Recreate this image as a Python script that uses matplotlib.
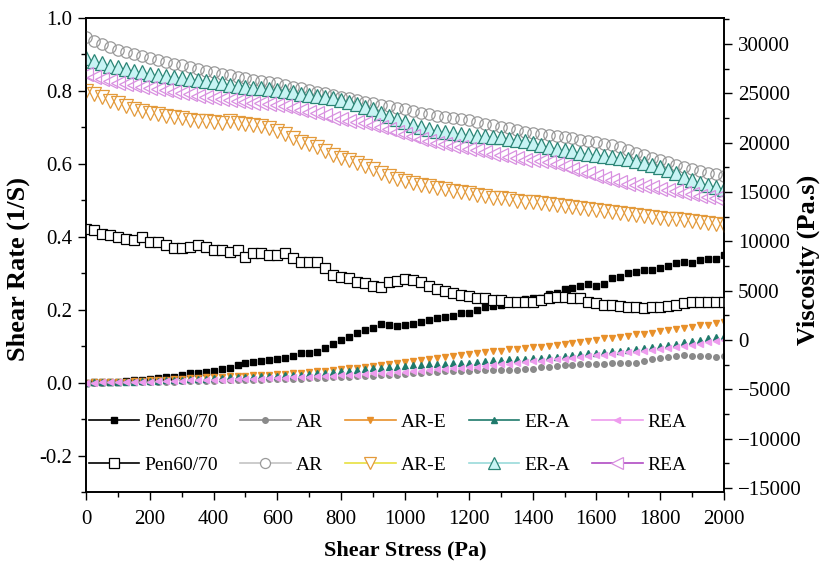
import numpy as np
import matplotlib.pyplot as plt
from matplotlib.lines import Line2D
from matplotlib.ticker import MultipleLocator

plt.rcParams['font.family'] = ['Liberation Serif', 'DejaVu Serif']

# shear stress steps (Pa)
stress = np.linspace(0, 2000, 81)

samples = ["Pen60/70", "AR", "AR-E", "ER-A", "REA"]

# shear rate (1/S) -> left axis
rate_pen = [0.000, 0.001, 0.002, 0.002, 0.003, 0.005, 0.006, 0.008,
            0.011, 0.013, 0.014, 0.016, 0.022, 0.025, 0.027, 0.030,
            0.033, 0.036, 0.041, 0.047, 0.055, 0.056, 0.060, 0.063,
            0.066, 0.067, 0.074, 0.080, 0.080, 0.083, 0.096, 0.107,
            0.118, 0.126, 0.135, 0.143, 0.151, 0.162, 0.158, 0.155,
            0.157, 0.160, 0.166, 0.173, 0.177, 0.180, 0.184, 0.190,
            0.192, 0.200, 0.207, 0.211, 0.213, 0.217, 0.218, 0.229,
            0.231, 0.233, 0.243, 0.246, 0.257, 0.259, 0.265, 0.270,
            0.266, 0.270, 0.286, 0.289, 0.300, 0.302, 0.308, 0.310,
            0.313, 0.321, 0.327, 0.330, 0.328, 0.335, 0.340, 0.340,
            0.350]
rate_ar = [0.000, 0.000, 0.000, 0.001, 0.001, 0.001, 0.002, 0.002,
           0.002, 0.003, 0.003, 0.003, 0.004, 0.004, 0.005, 0.005,
           0.005, 0.006, 0.006, 0.007, 0.007, 0.008, 0.008, 0.009,
           0.009, 0.010, 0.010, 0.011, 0.012, 0.013, 0.013, 0.014,
           0.015, 0.016, 0.017, 0.018, 0.019, 0.020, 0.021, 0.022,
           0.024, 0.025, 0.026, 0.028, 0.029, 0.031, 0.032, 0.033,
           0.033, 0.034, 0.034, 0.035, 0.035, 0.035, 0.034, 0.036,
           0.038, 0.042, 0.044, 0.046, 0.047, 0.048, 0.050, 0.052,
           0.052, 0.052, 0.053, 0.053, 0.054, 0.053, 0.058, 0.064,
           0.067, 0.070, 0.074, 0.075, 0.073, 0.072, 0.073, 0.071,
           0.072]
rate_are = [0.000, 0.001, 0.001, 0.002, 0.002, 0.003, 0.004, 0.005,
            0.006, 0.007, 0.008, 0.009, 0.011, 0.012, 0.013, 0.014,
            0.015, 0.016, 0.017, 0.018, 0.019, 0.020, 0.021, 0.022,
            0.023, 0.024, 0.026, 0.027, 0.029, 0.031, 0.033, 0.035,
            0.037, 0.039, 0.041, 0.043, 0.046, 0.048, 0.050, 0.053,
            0.056, 0.058, 0.061, 0.064, 0.067, 0.070, 0.073, 0.076,
            0.079, 0.082, 0.084, 0.086, 0.088, 0.091, 0.093, 0.095,
            0.097, 0.099, 0.101, 0.103, 0.105, 0.108, 0.111, 0.115,
            0.118, 0.121, 0.123, 0.126, 0.129, 0.132, 0.134, 0.137,
            0.141, 0.145, 0.147, 0.150, 0.153, 0.157, 0.159, 0.163,
            0.167]
rate_era = [0.000, 0.001, 0.001, 0.002, 0.002, 0.003, 0.003, 0.004,
            0.005, 0.005, 0.006, 0.007, 0.008, 0.009, 0.010, 0.011,
            0.012, 0.013, 0.014, 0.015, 0.016, 0.016, 0.017, 0.018,
            0.019, 0.020, 0.021, 0.022, 0.023, 0.025, 0.027, 0.029,
            0.031, 0.033, 0.035, 0.037, 0.039, 0.041, 0.043, 0.044,
            0.046, 0.047, 0.049, 0.050, 0.051, 0.052, 0.053, 0.054,
            0.055, 0.057, 0.059, 0.061, 0.063, 0.064, 0.065, 0.066,
            0.067, 0.068, 0.069, 0.071, 0.073, 0.075, 0.078, 0.080,
            0.082, 0.084, 0.086, 0.088, 0.090, 0.093, 0.095, 0.097,
            0.100, 0.104, 0.107, 0.110, 0.113, 0.117, 0.121, 0.125,
            0.128]
rate_rea = [0.000, 0.000, 0.001, 0.001, 0.001, 0.002, 0.002, 0.003,
            0.003, 0.004, 0.004, 0.005, 0.005, 0.006, 0.006, 0.007,
            0.007, 0.008, 0.008, 0.009, 0.010, 0.010, 0.011, 0.012,
            0.012, 0.013, 0.014, 0.015, 0.016, 0.017, 0.018, 0.019,
            0.020, 0.021, 0.022, 0.024, 0.025, 0.026, 0.027, 0.029,
            0.030, 0.032, 0.033, 0.035, 0.036, 0.038, 0.039, 0.041,
            0.042, 0.044, 0.046, 0.048, 0.050, 0.052, 0.054, 0.056,
            0.058, 0.060, 0.062, 0.064, 0.066, 0.068, 0.070, 0.072,
            0.075, 0.077, 0.079, 0.081, 0.083, 0.085, 0.087, 0.089,
            0.091, 0.094, 0.097, 0.100, 0.104, 0.107, 0.110, 0.113,
            0.116]

# viscosity (Pa.s) -> right axis
visc_pen = [11300, 11200, 10800, 10600, 10400, 10200, 10150, 10400,
            9950, 9950, 9650, 9350, 9350, 9450, 9650, 9450,
            9150, 9100, 8900, 9100, 8450, 8800, 8800, 8650,
            8650, 8800, 8300, 7950, 7950, 7900, 7300, 6600,
            6350, 6300, 5900, 5750, 5450, 5350, 5900, 6000,
            6150, 6100, 5900, 5500, 5150, 5000, 4760, 4600,
            4500, 4300, 4250, 4100, 4050, 3850, 3850, 3850,
            3900, 4050, 4250, 4350, 4350, 4250, 4250, 3850,
            3750, 3550, 3550, 3450, 3350, 3400, 3250, 3350,
            3350, 3450, 3550, 3750, 3850, 3850, 3850, 3850,
            3850]
visc_ar = [30700, 30300, 30000, 29700, 29450, 29200, 29000, 28800,
           28600, 28400, 28200, 28000, 27850, 27650, 27500, 27300,
           27150, 27000, 26850, 26700, 26550, 26400, 26300, 26200,
           26050, 25900, 25700, 25500, 25350, 25150, 25000, 24850,
           24650, 24500, 24300, 24150, 24000, 23850, 23700, 23550,
           23400, 23250, 23050, 22900, 22750, 22650, 22500, 22400,
           22300, 22150, 21950, 21750, 21600, 21450, 21300, 21100,
           20950, 20900, 20800, 20700, 20600, 20450, 20300, 20200,
           20050, 19900, 19750, 19550, 19300, 19000, 18750, 18500,
           18250, 18000, 17750, 17500, 17300, 17100, 16950, 16800,
           16650]
visc_are = [25200, 24900, 24600, 24250, 24000, 23700, 23450, 23250,
            23050, 22900, 22750, 22600, 22500, 22350, 22250, 22200,
            22100, 22050, 22200, 22000, 21950, 21800, 21700, 21450,
            21200, 20900, 20500, 20100, 19900, 19600, 19200, 18800,
            18500, 18250, 17900, 17600, 17300, 16950, 16650, 16350,
            16100, 15900, 15750, 15600, 15450, 15300, 15150, 15000,
            14900, 14750, 14600, 14450, 14350, 14250, 14100, 14000,
            13950, 13850, 13750, 13650, 13550, 13500, 13400, 13300,
            13200, 13100, 12950, 12850, 12750, 12650, 12550, 12450,
            12400, 12300, 12250, 12150, 12050, 11950, 11850, 11750,
            11650]
visc_era = [28600, 28300, 28050, 27800, 27650, 27500, 27300, 27150,
            27000, 26900, 26750, 26650, 26550, 26450, 26350, 26250,
            26150, 26050, 25900, 25800, 25650, 25600, 25500, 25450,
            25350, 25250, 25100, 24950, 24850, 24750, 24650, 24500,
            24350, 24100, 23900, 23650, 23400, 23050, 22700, 22400,
            22100, 21850, 21600, 21350, 21200, 21050, 20950, 20850,
            20750, 20700, 20650, 20600, 20550, 20400, 20300, 20150,
            20000, 19750, 19550, 19400, 19250, 19150, 19000, 18900,
            18800, 18700, 18600, 18500, 18350, 18150, 17950, 17750,
            17500, 17200, 16900, 16550, 16250, 15950, 15700, 15500,
            15300]
visc_rea = [27000, 26700, 26500, 26250, 26100, 25950, 25850, 25700,
            25600, 25450, 25300, 25150, 25000, 24900, 24750, 24650,
            24550, 24450, 24350, 24250, 24150, 24050, 24000, 23900,
            23850, 23700, 23500, 23300, 23150, 23000, 22800, 22550,
            22400, 22250, 22100, 22000, 21800, 21550, 21350, 21100,
            20900, 20650, 20400, 20150, 20000, 19850, 19700, 19550,
            19400, 19250, 19050, 18900, 18750, 18600, 18450, 18300,
            18250, 18150, 18000, 17850, 17600, 17350, 17100, 16900,
            16650, 16450, 16250, 16000, 15850, 15750, 15650, 15500,
            15350, 15250, 15100, 14950, 14800, 14650, 14550, 14450,
            14350]

rates = [rate_pen, rate_ar, rate_are, rate_era, rate_rea]
viscs = [visc_pen, visc_ar, visc_are, visc_era, visc_rea]

# filled symbols: (marker, colour, size)
filled_style = [("s", "black", 4.2),
                ("o", "#8a8a8a", 4.0),
                ("v", "#e8902a", 5.0),
                ("^", "#1f7a6c", 5.0),
                ("<", "#ee9cee", 5.0)]
# open symbols: (marker, edge colour, face colour, line colour, size)
open_style = [("s", "black", "white", "black", 7.8),
              ("o", "#9a9a9a", "none", "#c4c4c4", 8.2),
              ("v", "#e39a3b", "none", "#e8e040", 9.5),
              ("^", "#2b8576", "#c8f4f4", "#9adada", 9.5),
              ("<", "#d890e0", "none", "#b04cc4", 9.5)]

fig, ax = plt.subplots(figsize=(8.22, 5.61), dpi=100)
fig.subplots_adjust(left=0.1046, right=0.8808, top=0.968, bottom=0.123)
ax2 = ax.twinx()

handles = []
for name, r, v, fs, os_ in zip(samples, rates, viscs, filled_style, open_style):
    m, c, ms = fs
    ax.plot(stress, r, linestyle="none", marker=m, color=c, markersize=ms)
    om, oe, of, ol, oms = os_
    ax2.plot(stress, v, linestyle="none", marker=om, markeredgecolor=oe,
             markerfacecolor=of, markersize=oms, markeredgewidth=0.9)
    handles.append(Line2D([], [], color=c, lw=1.2, marker=m, markersize=ms,
                          label=name))
    handles.append(Line2D([], [], color=ol, lw=1.2, marker=om,
                          markersize=oms - 1, markeredgecolor=oe,
                          markerfacecolor=("white" if of == "none" else of),
                          markeredgewidth=0.9, label=name))

ax.set_xlim(0, 2000)
ax.set_ylim(-0.3, 1.0)
ax2.set_ylim(-15400, 32650)

ax.xaxis.set_major_locator(MultipleLocator(200))
ax.xaxis.set_minor_locator(MultipleLocator(100))
ax.yaxis.set_major_locator(MultipleLocator(0.2))
ax.yaxis.set_minor_locator(MultipleLocator(0.1))
ax2.yaxis.set_major_locator(MultipleLocator(5000))
ax2.yaxis.set_minor_locator(MultipleLocator(2500))
ax.yaxis.set_major_formatter(plt.FuncFormatter(lambda y, p: "%.1f" % y))

for a in (ax, ax2):
    a.tick_params(which="major", direction="out", length=6, width=1.0,
                  labelsize=15, pad=4)
    a.tick_params(which="minor", direction="out", length=3.5, width=1.0)
    for sp in a.spines.values():
        sp.set_linewidth(1.2)
ax.tick_params(axis="both", top=False, right=False)
ax.tick_params(axis="both", which="minor", top=False, right=False)
ax.tick_params(axis="x", pad=7)

ax.set_xlabel("Shear Stress (Pa)", fontsize=16, fontweight="bold", labelpad=8)
ax.set_ylabel("Shear Rate (1/S)", fontsize=19, fontweight="bold")
ax.yaxis.set_label_coords(-0.088, 0.47)
ax2.set_ylabel("Viscosity (Pa.s)", fontsize=19, fontweight="bold")
ax2.yaxis.set_label_coords(1.1135, 0.49)

ax2.legend(handles=handles, ncol=5, loc="lower left",
           bbox_to_anchor=(-0.02, 0.006), frameon=False, fontsize=14,
           handlelength=2.6, handletextpad=0.25, columnspacing=1.15,
           labelspacing=1.3, borderpad=0.3)

plt.savefig("out.png", dpi=100)
